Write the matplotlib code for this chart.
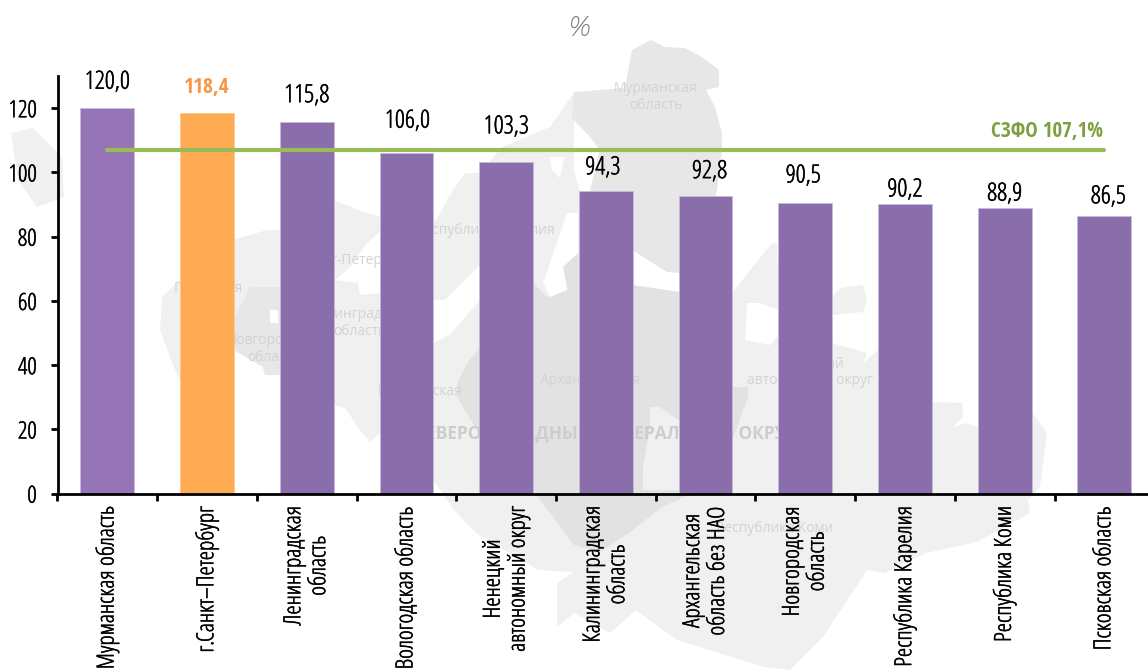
import matplotlib
matplotlib.use("Agg")
import matplotlib.pyplot as plt
import matplotlib.patheffects as pe
from matplotlib.patches import Polygon

regions = ['Мурманская область', 'г.Санкт–Петербург', 'Ленинградская\nобласть',
           'Вологодская область', 'Ненецкий\nавтономный округ', 'Калининградская\nобласть',
           'Архангельская\nобласть без НАО', 'Новгородская\nобласть', 'Республика Карелия',
           'Республика Коми', 'Псковская область']
values = [120.0, 118.4, 115.8, 106.0, 103.3, 94.3, 92.8, 90.5, 90.2, 88.9, 86.5]
value_labels = ['120,0', '118,4', '115,8', '106,0', '103,3', '94,3', '92,8', '90,5', '90,2', '88,9', '86,5']
district_avg = 107.1
district_label = 'СЗФО 107,1%'
yticks = [0, 20, 40, 60, 80, 100, 120]

# label offsets from the bar top, in pixels
label_dx = [0, 0, 0, 1, 0, -3, 4, -2, 0, 0, 4]
label_dy = [26, 26, 26, 32, 35, 23, 24, 27, 14, 14, 19]

# narrow face for all chart text
narrow = dict(family='Open Sans', stretch='condensed', weight='light')
narrow_bold = dict(family='Open Sans Condensed', weight='bold')
thicker = [pe.withStroke(linewidth=0.35, foreground='black')]

W, H = 1148, 671
fig = plt.figure(figsize=(W / 100, H / 100), dpi=100)

# faded map behind the chart, rough outlines in image pixels
bg = fig.add_axes([0, 0, 1, 1], zorder=0)
bg.set_xlim(0, W)
bg.set_ylim(H, 0)
bg.axis('off')

mainland = [(162, 297), (180, 280), (233, 240), (267, 230), (280, 230), (333, 200), (367, 213), (410, 225),
            (436, 220), (450, 195), (465, 173), (480, 173), (502, 147), (550, 127), (574, 93), (574, 170),
            (590, 230), (632, 285), (679, 292), (732, 293), (772, 243), (777, 243), (779, 300), (832, 343),
            (867, 353), (863, 363), (878, 350), (932, 402), (962, 403), (963, 417), (953, 427), (967, 423),
            (978, 427), (1032, 412), (1047, 433), (1040, 487), (1028, 500), (1030, 513), (977, 542), (926, 553),
            (885, 573), (867, 570), (823, 637), (790, 670), (764, 667), (677, 640), (636, 610), (610, 633),
            (574, 613), (557, 627), (557, 583), (574, 572), (538, 570), (476, 533), (454, 510), (433, 480),
            (380, 433), (370, 442), (360, 430), (345, 408), (333, 405), (280, 375), (265, 375), (263, 367),
            (234, 350), (180, 380), (175, 370), (160, 330)]
kaliningrad = [(11, 133), (33, 128), (62, 157), (64, 197), (37, 207), (18, 180)]
island = [(832, 297), (840, 288), (863, 285), (867, 300), (863, 312), (833, 315)]
murmansk = [(651, 40), (632, 50), (625, 88), (574, 92), (572, 118), (590, 137), (600, 150), (590, 190), (600, 235),
            (632, 250), (667, 272), (679, 273), (700, 260), (717, 190), (722, 150), (722, 133), (715, 107), (706, 90),
            (719, 87), (719, 70), (702, 57), (685, 48), (665, 47)]
novgorod = [(235, 317), (250, 287), (280, 287), (280, 375), (265, 375), (263, 367), (234, 350)]
arkhangelsk = [(457, 383), (468, 362), (533, 283), (547, 297), (568, 290), (563, 267), (573, 253), (590, 255),
               (632, 285), (679, 292), (700, 300), (715, 387), (748, 387), (748, 397), (732, 440), (700, 490),
               (662, 507), (629, 533), (600, 552), (574, 545), (533, 490), (475, 427), (457, 397)]
wedge = [(650, 407), (660, 407), (678, 420), (700, 430), (700, 490), (643, 490), (643, 467), (650, 427)]
water = [[(567, 213), (578, 213), (578, 253), (563, 267), (567, 290), (550, 297), (543, 283), (558, 240)],
         [(550, 157), (564, 157), (560, 178), (552, 170)],
         [(747, 303), (745, 340), (770, 345), (779, 335), (779, 310), (760, 303)],
         [(335, 280), (350, 267), (367, 243), (380, 232), (380, 293), (360, 295), (358, 283)],
         [(433, 300), (445, 300), (470, 275), (480, 265), (480, 300), (450, 335), (433, 343)],
         [(270, 310), (278, 310), (278, 323), (270, 323)]]

for pts in [mainland, kaliningrad, island]:
    bg.add_patch(Polygon(pts, closed=True, fc='#f0f0f0', ec='none'))
for pts in [murmansk, novgorod]:
    bg.add_patch(Polygon(pts, closed=True, fc='#e7e7e7', ec='none'))
bg.add_patch(Polygon(arkhangelsk, closed=True, fc='#e2e2e2', ec='none'))
bg.add_patch(Polygon(wedge, closed=True, fc='#f0f0f0', ec='none'))
for pts in water:
    bg.add_patch(Polygon(pts, closed=True, fc='white', ec='none'))

map_names = [(656, 97, 'Мурманская\nобласть'), (775, 529, 'Республика Коми'), (485, 231, 'Республика Карелия'),
             (355, 260, 'Санкт-Петербург'), (360, 323, 'Ленинградская\nобласть'), (274, 349, 'Новгородская\nобласть'),
             (420, 391, 'Вологодская'), (590, 381, 'Архангельская'), (810, 372, 'Ненецкий\nавтономный округ'),
             (208, 289, 'Псковская')]
for mx, my, name in map_names:
    bg.text(mx, my, name, color='#d3d3d3', fontsize=10, family='Open Sans', ha='center', va='center', linespacing=1.2)
bg.text(605, 432, 'СЕВЕРО-ЗАПАДНЫЙ ФЕДЕРАЛЬНЫЙ ОКРУГ', color='#cdcdcd', fontsize=12.5, family='Open Sans',
        fontweight='bold', ha='center', va='center')

left, right = 57.5, 57.5 + 11 * 99.7
bottom_px, top_px = 493.7, 76.1
ax = fig.add_axes([left / W, (H - bottom_px) / H, (right - left) / W, (bottom_px - top_px) / H], zorder=1)
ax.patch.set_alpha(0)

x = list(range(len(values)))
colors = ['#8a6dab'] * len(values)
colors[0] = '#9575b5'
colors[1] = '#ffab54'
edges = ['#c9b9dc'] * len(values)
edges[1] = '#ffc890'
ax.bar(x, values, width=0.54, color=colors, edgecolor=edges, linewidth=0.6, zorder=2)
ax.plot(x, [district_avg] * len(x), color='#9bbb59', linewidth=3, solid_capstyle='round', zorder=3)

for i, v in enumerate(values):
    if i == 1:
        ax.annotate(value_labels[i], (i, v), xytext=(label_dx[i], label_dy[i]), textcoords='offset pixels',
                    ha='center', va='center', fontsize=15.5, color='#f79646', **narrow_bold)
    else:
        ax.annotate(value_labels[i], (i, v), xytext=(label_dx[i], label_dy[i]), textcoords='offset pixels',
                    ha='center', va='center', fontsize=18, color='black', path_effects=thicker, **narrow)
fig.text(1047 / W, 1 - 131 / H, district_label, ha='center', va='center', fontsize=15, color='#7f9f3f', **narrow_bold)

ax.set_xlim(-0.5, 10.5)
ax.set_ylim(0, 130)
ax.set_yticks(yticks)
ax.set_xticks(x)
ax.set_xticklabels(regions, rotation=90, va='top', ha='center', multialignment='center', fontsize=17,
                   linespacing=1.05, path_effects=thicker, **narrow)
ax.set_yticklabels([str(t) for t in yticks], fontsize=17, path_effects=thicker, **narrow)
ax.set_xticks([i - 0.5 for i in x], minor=True)
ax.tick_params(axis='x', which='major', length=0, pad=9)
ax.tick_params(axis='x', which='minor', length=5, width=2)
ax.tick_params(axis='y', length=5, width=2, pad=10)
for s in ['top', 'right']:
    ax.spines[s].set_visible(False)
for s in ['left', 'bottom']:
    ax.spines[s].set_linewidth(2)

fig.text(579 / W, 1 - 28 / H, '%', color='#7f7f7f', fontsize=20, style='italic', ha='center', va='center',
         family='Open Sans', weight='light')

fig.savefig('out.png', dpi=100)
